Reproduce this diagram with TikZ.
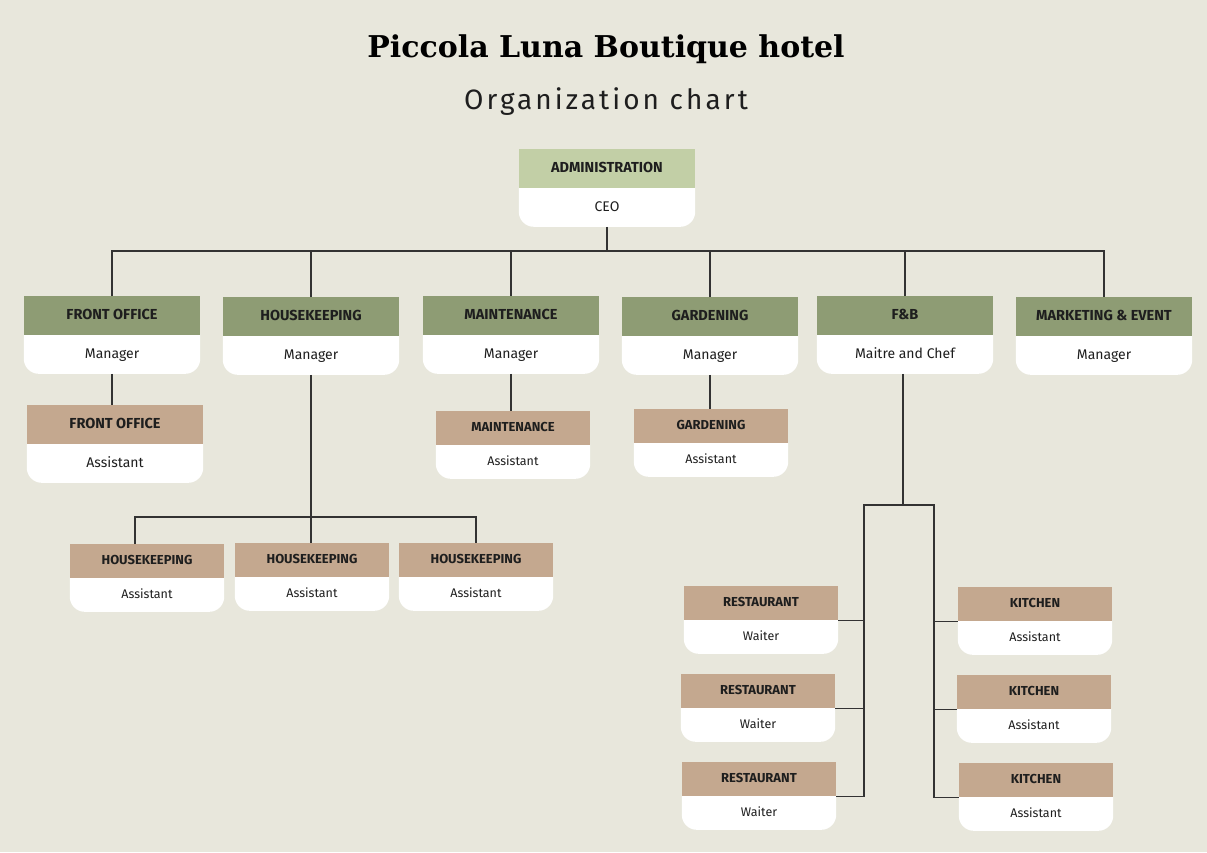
\documentclass[tikz,border=0pt]{standalone}
\usepackage{fontspec}
\setmainfont{Fira Sans}
\newfontfamily\titlefont{DejaVu Serif}
\newfontfamily\subtitlefont[LetterSpace=11]{Fira Sans}
\usetikzlibrary{positioning, backgrounds}
\definecolor{paper}{HTML}{E8E7DC}
\definecolor{sage}{HTML}{C2CFA6}
\definecolor{olive}{HTML}{8E9C74}
\definecolor{sand}{HTML}{C4A88F}
\definecolor{ink}{HTML}{1E1E1E}
\definecolor{wire}{HTML}{333333}

\begin{document}
\begin{tikzpicture}[x=1pt, y=-1pt,
  head/.style={rectangle, anchor=north, inner sep=1pt, minimum width=176pt,
    minimum height=39pt, text height=1.3ex, text depth=0pt,
    font=\fontsize{14.5}{16}\selectfont\bfseries, text=ink},
  body/.style={rectangle, inner sep=1pt, below=0pt of #1, minimum width=176pt,
    minimum height=38pt, text height=1.3ex, text depth=0pt,
    font=\fontsize{14}{16}\selectfont, text=ink},
  shead/.style={head, minimum width=154pt, minimum height=34pt,
    font=\fontsize{13}{15}\selectfont\bfseries},
  sbody/.style={body=#1, minimum width=154pt, minimum height=33pt,
    font=\fontsize{12.5}{14}\selectfont},
  dept/.style={head, fill=olive},
  staff/.style={head, fill=sand},
  sstaff/.style={shead, fill=sand},
  link/.style={draw=wire, line width=1.2pt},
]
  \useasboundingbox (0,0) rectangle (1207,852);

  \node[font=\titlefont\bfseries\fontsize{30}{34}\selectfont, text=black] (title) at (606,49)
    {Piccola Luna Boutique hotel};
  \node[font=\subtitlefont\fontsize{28}{32}\selectfont, text=ink] (subtitle) at (606,102)
    {Organization chart};

  % top
  \node[head, fill=sage] (adm) at (607,149) {ADMINISTRATION};
  \node[body=adm] (adm-b) {CEO};

  % departments
  \node[dept] (fo) at (112,296) {FRONT OFFICE};
  \node[body=fo] (fo-b) {Manager};
  \node[dept] (hk) at (311,297) {HOUSEKEEPING};
  \node[body=hk] (hk-b) {Manager};
  \node[dept] (mt) at (511,296) {MAINTENANCE};
  \node[body=mt] (mt-b) {Manager};
  \node[dept] (gd) at (710,297) {GARDENING};
  \node[body=gd] (gd-b) {Manager};
  \node[dept] (fb) at (905,296) {F\&B};
  \node[body=fb] (fb-b) {Maitre and Chef};
  \node[dept] (mk) at (1104,297) {MARKETING \& EVENT};
  \node[body=mk] (mk-b) {Manager};

  % assistants
  \node[staff] (foa) at (115,405) {FRONT OFFICE};
  \node[body=foa] (foa-b) {Assistant};
  \node[sstaff] (mta) at (513,411) {MAINTENANCE};
  \node[sbody=mta] (mta-b) {Assistant};
  \node[sstaff] (gda) at (711,409) {GARDENING};
  \node[sbody=gda] (gda-b) {Assistant};
  \foreach \n/\x/\y in {hk1/147/544, hk2/312/543, hk3/476/543} {
    \node[sstaff] (\n) at (\x,\y) {HOUSEKEEPING};
    \node[sbody=\n] (\n-b) {Assistant};
  }
  \foreach \n/\x/\y in {rs1/761/586, rs2/758/674, rs3/759/762} {
    \node[sstaff] (\n) at (\x,\y) {RESTAURANT};
    \node[sbody=\n] (\n-b) {Waiter};
  }
  \foreach \n/\x/\y in {kt1/1035/587, kt2/1034/675, kt3/1036/763} {
    \node[sstaff] (\n) at (\x,\y) {KITCHEN};
    \node[sbody=\n] (\n-b) {Assistant};
  }

  % white card bottoms
  \begin{scope}[on background layer]
    \fill[paper] (0,0) rectangle (1207,852);
    \foreach \b in {adm-b, fo-b, hk-b, mt-b, gd-b, fb-b, mk-b, foa-b, mta-b, gda-b,
      hk1-b, hk2-b, hk3-b, rs1-b, rs2-b, rs3-b, kt1-b, kt2-b, kt3-b}
      \fill[white, rounded corners=15pt] ([yshift=1pt]\b.north west) -- (\b.south west)
        -- (\b.south east) -- ([yshift=1pt]\b.north east);
  \end{scope}

  % connectors
  \coordinate (bus) at (607,251);
  \draw[link] (adm-b.south) -- (bus);
  \draw[link] (fo.north) |- (bus) -| (mk.north);
  \foreach \d in {hk,mt,gd,fb}
    \draw[link] (\d.north) -- (\d.north |- bus);

  \draw[link] (fo-b.south) -- (fo-b.south |- foa.north);
  \draw[link] (mt-b.south) -- (mt-b.south |- mta.north);
  \draw[link] (gd-b.south) -- (gd-b.south |- gda.north);

  \coordinate (hkbus) at (311,517);
  \draw[link] (hk-b.south) -- (hkbus);
  \draw[link] ([xshift=-12pt]hk1.north) |- (hkbus) -| (hk3.north);
  \draw[link] (hkbus) -- (hkbus |- hk2.north);

  \coordinate (fbj) at (903,505);
  \coordinate (lrail) at (864,505);
  \coordinate (rrail) at (934,505);
  \draw[link] (fb-b.south -| fbj) -- (fbj);
  \draw[link] (rs3.south east) -| (lrail) -- (rrail) |- (kt3.south west);
  \foreach \r in {rs1,rs2}
    \draw[link] (\r.south east) -- (\r.south east -| lrail);
  \foreach \k in {kt1,kt2}
    \draw[link] (\k.south west) -- (\k.south west -| rrail);
\end{tikzpicture}
\end{document}
